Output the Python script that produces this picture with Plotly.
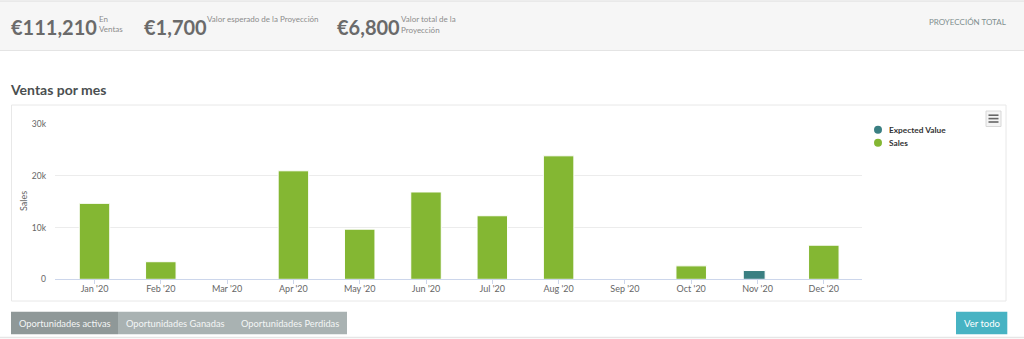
import plotly.graph_objects as go

W, H = 1024, 339

# Monthly data
months = ["Jan '20", "Feb '20", "Mar '20", "Apr '20", "May '20", "Jun '20",
          "Jul '20", "Aug '20", "Sep '20", "Oct '20", "Nov '20", "Dec '20"]
sales = [14700, 3400, None, 21000, 9700, 16900, 12300, 23900, None, 2600, None, 6600]
expected_value = [None, None, None, None, None, None, None, None, None, None, 1700, None]
y_ticks = [0, 10000, 20000, 30000]
y_tick_labels = ["0", "10k", "20k", "30k"]

# Summary figures shown in the header band
total_sales = "€111,210"
expected_projection = "€1,700"
total_projection = "€6,800"

GREEN = "#84b733"
TEAL = "#3a7f82"
FONT = "Lato"


def px(x):
    return x / W


def py(y):
    return 1 - y / H


fig = go.Figure()
fig.add_trace(go.Bar(x=months, y=sales, name="Sales", marker_color=GREEN,
                     marker_line=dict(color="white", width=1), width=0.46,
                     showlegend=False))
fig.add_trace(go.Bar(x=months, y=expected_value, name="Expected Value",
                     marker_color=TEAL, marker_line=dict(color="white", width=1),
                     width=0.33, offset=-0.215, showlegend=False))

shapes = []
ann = []

# header band
shapes.append(dict(type="rect", xref="paper", yref="paper", x0=0, x1=1,
                   y0=py(50.5), y1=py(1), fillcolor="#f6f6f6",
                   line=dict(width=0), layer="below"))
shapes.append(dict(type="line", xref="paper", yref="paper", x0=0, x1=1,
                   y0=py(1), y1=py(1), line=dict(color="#dcdcdc", width=1.2)))
shapes.append(dict(type="line", xref="paper", yref="paper", x0=0, x1=1,
                   y0=py(50.5), y1=py(50.5), line=dict(color="#e4e4e4", width=1)))

# chart card
shapes.append(dict(type="rect", xref="paper", yref="paper", x0=px(11.5), x1=px(1006),
                   y0=py(301), y1=py(105), fillcolor="white",
                   line=dict(color="#e8e8e8", width=1), layer="below"))

# export menu button
shapes.append(dict(type="rect", xref="paper", yref="paper", x0=px(986), x1=px(1001),
                   y0=py(126.5), y1=py(111), fillcolor="#f4f4f4",
                   line=dict(color="#d8d8d8", width=1)))
for yy in (115.2, 118.6, 122.0):
    shapes.append(dict(type="line", xref="paper", yref="paper", x0=px(988.5), x1=px(998.5),
                       y0=py(yy), y1=py(yy), line=dict(color="#666666", width=1.6)))

# legend
for yy, col, label in ((129.7, TEAL, "Expected Value"), (142.7, GREEN, "Sales")):
    shapes.append(dict(type="circle", xref="paper", yref="paper",
                       x0=px(874), x1=px(882), y0=py(yy + 4), y1=py(yy - 4),
                       fillcolor=col, line=dict(width=0)))
    ann.append(dict(x=px(886.5), y=py(yy), xref="paper", yref="paper", text=f"<b>{label}</b>",
                    showarrow=False, xanchor="left", yanchor="middle",
                    font=dict(family=FONT, size=8.3, color="#333333")))

# bottom buttons
buttons = [(11, 118, "#8f9898", "Oportunidades activas"),
           (118, 233, "#a9b2b2", "Oportunidades Ganadas"),
           (233, 347, "#a9b2b2", "Oportunidades Perdidas")]
for x0, x1, col, label in buttons:
    shapes.append(dict(type="rect", xref="paper", yref="paper", x0=px(x0), x1=px(x1),
                       y0=py(334.3), y1=py(311.7), fillcolor=col,
                       line=dict(color=col, width=0)))
    ann.append(dict(x=px((x0 + x1) / 2), y=py(323), xref="paper", yref="paper", text=label,
                    showarrow=False, xanchor="center", yanchor="middle",
                    font=dict(family=FONT, size=9.3, color="#f4f6f6")))
shapes.append(dict(type="rect", xref="paper", yref="paper", x0=px(956), x1=px(1007.3),
                   y0=py(334.3), y1=py(311.7), fillcolor="#47b3c3",
                   line=dict(width=0)))
ann.append(dict(x=px(981.6), y=py(323), xref="paper", yref="paper", text="Ver todo",
                showarrow=False, xanchor="center", yanchor="middle",
                font=dict(family=FONT, size=9.5, color="white")))
shapes.append(dict(type="line", xref="paper", yref="paper", x0=0, x1=1,
                   y0=py(337.5), y1=py(337.5), line=dict(color="#e6e6e6", width=1.5)))

# header figures
big = dict(family=FONT, size=20, color="#6a6a6a")
small = dict(family=FONT, size=8, color="#8c8c8c")
ann += [
    dict(x=px(9), y=py(27), text=f"<b>{total_sales}</b>", font=big, xanchor="left"),
    dict(x=px(97), y=py(18.5), text="En", font=small, xanchor="left"),
    dict(x=px(97), y=py(29.5), text="Ventas", font=small, xanchor="left"),
    dict(x=px(141.5), y=py(27), text=f"<b>{expected_projection}</b>", font=big,
         xanchor="left"),
    dict(x=px(205), y=py(19.5), text="Valor esperado de la Proyección", font=small,
         xanchor="left"),
    dict(x=px(334.5), y=py(27), text=f"<b>{total_projection}</b>", font=big, xanchor="left"),
    dict(x=px(399), y=py(19.5), text="Valor total de la", font=small, xanchor="left"),
    dict(x=px(399), y=py(30.5), text="Proyección", font=small, xanchor="left"),
    dict(x=px(1007.5), y=py(21.5), text="PROYECCIÓN TOTAL",
         font=dict(family=FONT, size=8, color="#7f8f8f"), xanchor="right"),
    dict(x=px(7.5), y=py(89), text="<b>Ventas por mes</b>",
         font=dict(family=FONT, size=14, color="#4a4f50"), xanchor="left"),
    dict(x=px(23.5), y=py(201.5), text="Sales", textangle=-90,
         font=dict(family=FONT, size=9, color="#666666"), xanchor="center"),
]
for a in ann:
    a.setdefault("xref", "paper")
    a.setdefault("yref", "paper")
    a.setdefault("showarrow", False)
    a.setdefault("yanchor", "middle")

# plot area in pixels: x 55..862, y 124.3..279.3
fig.update_layout(
    template="none",
    width=W, height=H,
    margin=dict(l=0, r=0, t=0, b=0, pad=0, autoexpand=False),
    paper_bgcolor="white", plot_bgcolor="rgba(0,0,0,0)",
    barmode="overlay", showlegend=False,
    font=dict(family=FONT, size=9, color="#666666"),
    xaxis=dict(domain=[px(55), px(862)], range=[-0.596, 11.576], automargin=False,
               showgrid=False, showline=True, linecolor="#ccd6eb", linewidth=1,
               ticks="outside", ticklen=4, tickcolor="#ccd6eb", ticklabelstandoff=-3,
               tickfont=dict(family=FONT, size=9, color="#666666"),
               categoryorder="array", categoryarray=months, fixedrange=True),
    yaxis=dict(domain=[py(279.3), py(124.3)], range=[0, 30000], automargin=False,
               tickvals=y_ticks, ticktext=y_tick_labels,
               showgrid=True, gridcolor="#ececec", gridwidth=1,
               zeroline=False, showline=False, ticks="", ticklabelstandoff=8,
               tickfont=dict(family=FONT, size=8.5, color="#666666"), fixedrange=True),
    shapes=shapes,
    annotations=ann,
)

fig.write_html("out.html", config={"displayModeBar": False})
